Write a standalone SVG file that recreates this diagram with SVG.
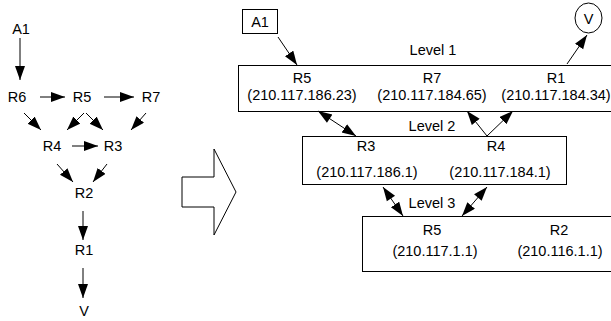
<svg xmlns="http://www.w3.org/2000/svg" width="611" height="321" viewBox="0 0 611 321">
  <style>
    text { font-family: "Liberation Sans", Arial, sans-serif; font-size: 14.5px; fill: #000; text-anchor: middle; }
    .box { fill: #fff; stroke: #000; stroke-width: 1; }
    .edge { stroke: #000; stroke-width: 1; fill: none; }
    .one { marker-end: url(#head); }
    .two { marker-start: url(#tail); marker-end: url(#head); }
  </style>
  <defs>
    <marker id="head" markerUnits="userSpaceOnUse" markerWidth="16" markerHeight="12" refX="14" refY="5" orient="auto">
      <path d="M0,0 L14,5 L0,10 Z" fill="#000"/>
    </marker>
    <marker id="tail" markerUnits="userSpaceOnUse" markerWidth="16" markerHeight="12" refX="0" refY="5" orient="auto">
      <path d="M14,0 L0,5 L14,10 Z" fill="#000"/>
    </marker>
  </defs>
  <rect width="611" height="321" fill="#fff"/>

  <!-- left: routing graph -->
  <g id="left-nodes">
    <g id="l-A1"><text x="21" y="34">A1</text></g>
    <g id="l-R6"><text x="17" y="102">R6</text></g>
    <g id="l-R5"><text x="82" y="102">R5</text></g>
    <g id="l-R7"><text x="151" y="102">R7</text></g>
    <g id="l-R4"><text x="52" y="151">R4</text></g>
    <g id="l-R3"><text x="113" y="151">R3</text></g>
    <g id="l-R2"><text x="84" y="198">R2</text></g>
    <g id="l-R1"><text x="84" y="255">R1</text></g>
    <g id="l-V"><text x="84" y="316">V</text></g>
  </g>
  <g id="left-edges">
    <line class="edge one" x1="20" y1="38" x2="20" y2="80"/>
    <line class="edge one" x1="40" y1="97" x2="65" y2="97"/>
    <line class="edge one" x1="104" y1="97" x2="134" y2="97"/>
    <line class="edge one" x1="72" y1="146" x2="98" y2="146"/>
    <line class="edge one" x1="24" y1="113" x2="41" y2="130"/>
    <line class="edge one" x1="84" y1="113" x2="67" y2="130"/>
    <line class="edge one" x1="86" y1="113" x2="103" y2="130"/>
    <line class="edge one" x1="146" y1="113" x2="131" y2="130"/>
    <line class="edge one" x1="57" y1="164" x2="73" y2="182"/>
    <line class="edge one" x1="107" y1="164" x2="93" y2="182"/>
    <line class="edge one" x1="83" y1="211" x2="83" y2="240"/>
    <line class="edge one" x1="83" y1="268" x2="83" y2="298"/>
  </g>

  <!-- transform arrow -->
  <polygon id="transform-arrow" class="box" points="182,177 214,177 214,149 236,192 214,235 214,207 182,207"/>

  <!-- right: levels -->
  <g id="level1">
    <rect class="box" x="238.5" y="65.5" width="380" height="46"/>
    <text x="433" y="55">Level 1</text>
    <text x="302" y="83">R5</text>
    <text x="302" y="100">(210.117.186.23)</text>
    <text x="432" y="83">R7</text>
    <text x="432" y="100">(210.117.184.65)</text>
    <text x="556" y="83">R1</text>
    <text x="556" y="100">(210.117.184.34)</text>
  </g>
  <g id="level2">
    <rect class="box" x="302.5" y="136.5" width="264" height="48"/>
    <text x="432" y="131">Level 2</text>
    <text x="366" y="151">R3</text>
    <text x="367" y="177">(210.117.186.1)</text>
    <text x="496" y="151">R4</text>
    <text x="500" y="177">(210.117.184.1)</text>
  </g>
  <g id="level3">
    <rect class="box" x="362.5" y="216.5" width="260" height="55"/>
    <text x="432" y="208">Level 3</text>
    <text x="432" y="235">R5</text>
    <text x="435" y="256">(210.117.1.1)</text>
    <text x="559" y="235">R2</text>
    <text x="560" y="256">(210.116.1.1)</text>
  </g>
  <g id="r-A1">
    <rect class="box" x="242.5" y="9.5" width="35" height="24"/>
    <text x="260" y="27">A1</text>
  </g>
  <g id="r-V">
    <ellipse class="box" cx="588.5" cy="18" rx="13.5" ry="15"/>
    <text x="588.5" y="24">V</text>
  </g>
  <g id="right-edges">
    <line class="edge one" x1="278" y1="37" x2="297" y2="65"/>
    <line class="edge one" x1="567" y1="64" x2="587" y2="35"/>
    <line class="edge two" x1="318" y1="111" x2="356" y2="136"/>
    <line class="edge one" x1="487" y1="136" x2="467" y2="111"/>
    <line class="edge one" x1="487" y1="136" x2="513" y2="111"/>
    <line class="edge two" x1="383" y1="187" x2="403" y2="216"/>
    <line class="edge two" x1="487" y1="187" x2="462" y2="216"/>
  </g>
</svg>
